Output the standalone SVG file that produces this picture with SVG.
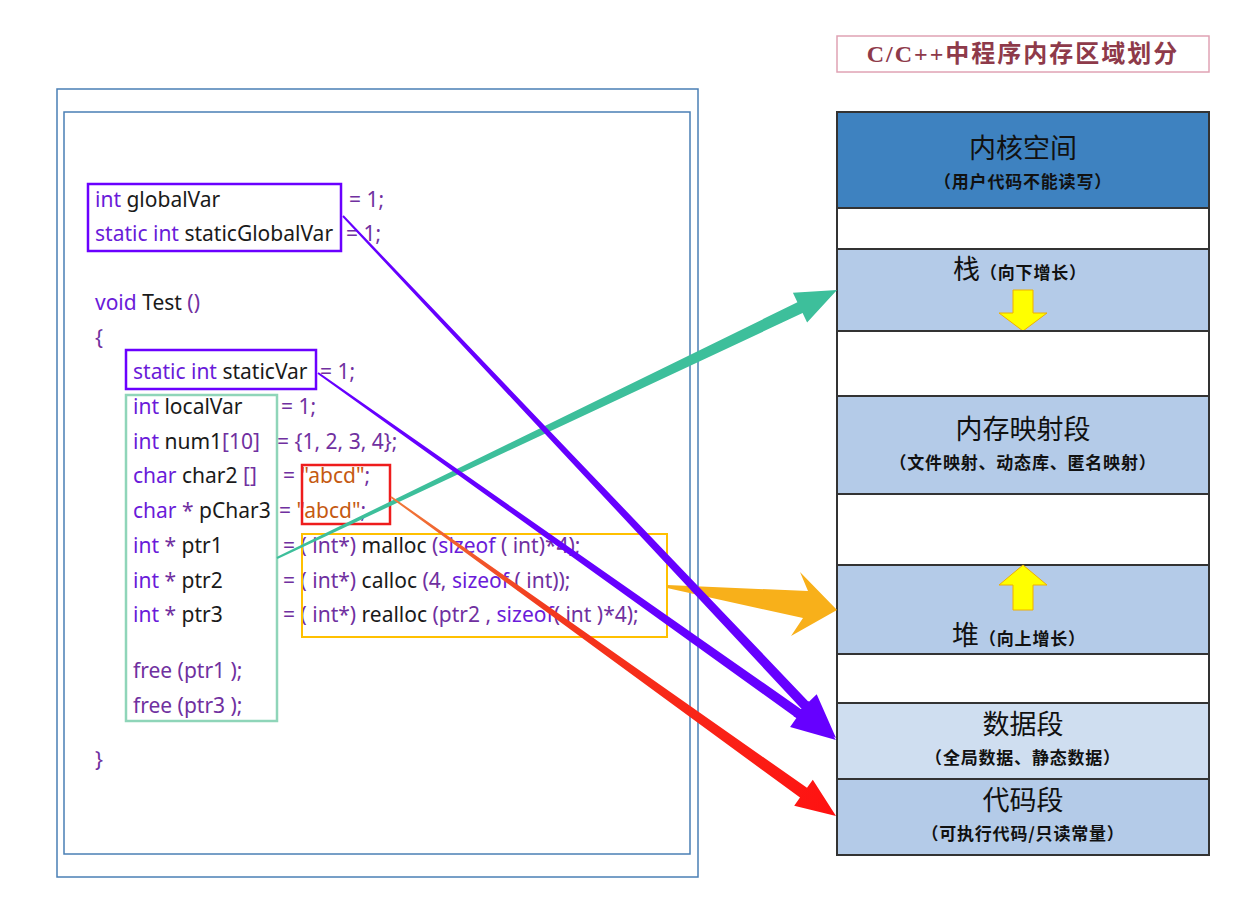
<svg xmlns="http://www.w3.org/2000/svg" width="1236" height="903" viewBox="0 0 1236 903">
<style>
.code{font-family:"Noto Sans","Open Sans",sans-serif;font-size:21px;fill:#1a1a1a}
.k{fill:#6a1bd9}
.p{fill:#7030a0}
.s{fill:#c55a11}
.frame{fill:none;stroke:#4a7fb5;stroke-width:1.5}
.seg{stroke:#333;stroke-width:2}
.big{font-family:"Noto Sans CJK SC",sans-serif;font-size:27px;fill:#111;text-anchor:middle}
.sub{font-family:"Noto Sans CJK SC",sans-serif;font-size:17px;font-weight:bold;fill:#111;text-anchor:middle;letter-spacing:0.8px}
.ya{fill:#ffff00;stroke:#f0b000;stroke-width:1}
</style>
<defs>
<linearGradient id="redg" gradientUnits="userSpaceOnUse" x1="391" y1="497" x2="836" y2="816">
<stop offset="0" stop-color="#f07a3a"/>
<stop offset="0.35" stop-color="#f23a1e"/>
<stop offset="1" stop-color="#ff1111"/>
</linearGradient>
</defs>
<rect width="1236" height="903" fill="#fff"/>

<g id="title">
<rect x="837" y="36" width="372" height="36" fill="#fff" stroke="#e0a3b4" stroke-width="1.5"/>
<text x="1023" y="62" text-anchor="middle" font-family="'Liberation Serif','Noto Sans CJK SC',serif" font-size="24" font-weight="bold" fill="#8e3a4a" letter-spacing="2">C/C++中程序内存区域划分</text>
</g>

<g id="code-frame">
<rect class="frame" x="57" y="89" width="641" height="788"/>
<rect class="frame" x="64" y="112" width="626" height="742"/>
</g>

<g id="code">
<text class="code" x="95" y="207"><tspan class="k">int</tspan> globalVar</text>
<text class="code p" x="349" y="207">= 1;</text>
<text class="code" x="95" y="241"><tspan class="k">static int</tspan> staticGlobalVar</text>
<text class="code p" x="346" y="241">= 1;</text>
<text class="code" x="95" y="310"><tspan class="k">void</tspan> Test <tspan class="p">()</tspan></text>
<text class="code p" x="95" y="345">{</text>
<text class="code" x="133" y="379"><tspan class="k">static int</tspan> staticVar</text>
<text class="code p" x="320" y="379">= 1;</text>
<text class="code" x="133" y="414"><tspan class="k">int</tspan> localVar</text>
<text class="code p" x="281" y="414">= 1;</text>
<text class="code" x="133" y="449"><tspan class="k">int</tspan> num1<tspan class="p">[10]</tspan></text>
<text class="code p" x="277" y="449">= {1, 2, 3, 4};</text>
<text class="code" x="133" y="483"><tspan class="k">char</tspan> char2 <tspan class="p">[]</tspan></text>
<text class="code p" x="283" y="483">= <tspan class="s">"abcd"</tspan>;</text>
<text class="code" x="133" y="518"><tspan class="k">char</tspan> <tspan class="p">*</tspan> pChar3</text>
<text class="code p" x="279" y="518">= <tspan class="s">"abcd"</tspan>;</text>
<text class="code" x="133" y="553"><tspan class="k">int</tspan> <tspan class="p">*</tspan> ptr1</text>
<text class="code p" x="283" y="553">= ( int*) <tspan fill="#1a1a1a">malloc</tspan> (<tspan class="k">sizeof</tspan> ( int)*4);</text>
<text class="code" x="133" y="588"><tspan class="k">int</tspan> <tspan class="p">*</tspan> ptr2</text>
<text class="code p" x="283" y="588">= ( int*) <tspan fill="#1a1a1a">calloc</tspan> (4, <tspan class="k">sizeof</tspan> ( int));</text>
<text class="code" x="133" y="622"><tspan class="k">int</tspan> <tspan class="p">*</tspan> ptr3</text>
<text class="code p" x="283" y="622">= ( int*) <tspan fill="#1a1a1a">realloc</tspan> (ptr2 , <tspan class="k">sizeof</tspan>( int )*4);</text>
<text class="code p" x="133" y="678">free (ptr1 );</text>
<text class="code p" x="133" y="713">free (ptr3 );</text>
<text class="code p" x="95" y="767">}</text>
</g>

<g id="boxes" fill="none">
<rect id="box-global" x="88" y="184" width="253" height="67" stroke="#6a00ff" stroke-width="2.5"/>
<rect id="box-static" x="126" y="350" width="190" height="39" stroke="#6a00ff" stroke-width="2.5"/>
<rect id="box-local" x="126" y="395" width="151" height="326" stroke="#8fd5b9" stroke-width="2.5"/>
<rect id="box-const" x="302" y="465" width="88" height="59" stroke="#ee1c1c" stroke-width="2.5"/>
<rect id="box-heap" x="302" y="534" width="365" height="103" stroke="#ffc000" stroke-width="2"/>
</g>

<g id="memory">
<g id="seg-kernel"><rect class="seg" x="837" y="112" width="372" height="96" fill="#3e82c0"/>
<text class="big" x="1023" y="158">内核空间</text>
<text class="sub" x="1023" y="188">（用户代码不能读写）</text></g>
<g id="gap1"><rect class="seg" x="837" y="208" width="372" height="41" fill="#fff"/></g>
<g id="seg-stack"><rect class="seg" x="837" y="249" width="372" height="82" fill="#b4cbe8"/>
<text x="953" y="279" font-family="'Noto Sans CJK SC',sans-serif" fill="#111"><tspan font-size="27">栈</tspan><tspan font-size="17" font-weight="bold" letter-spacing="0.8">（向下增长）</tspan></text>
<polygon class="ya" points="1013,290 1033,290 1033,313 1047,313 1023,331 999,313 1013,313"/></g>
<g id="gap2"><rect class="seg" x="837" y="331" width="372" height="65" fill="#fff"/></g>
<g id="seg-mmap"><rect class="seg" x="837" y="396" width="372" height="98" fill="#b4cbe8"/>
<text class="big" x="1023" y="439">内存映射段</text>
<text class="sub" x="1023" y="469">（文件映射、动态库、匿名映射）</text></g>
<g id="gap3"><rect class="seg" x="837" y="494" width="372" height="71" fill="#fff"/></g>
<g id="seg-heap"><rect class="seg" x="837" y="565" width="372" height="89" fill="#b4cbe8"/>
<polygon class="ya" points="1023,565 1047,585 1033,585 1033,610 1013,610 1013,585 999,585"/>
<text x="952" y="645" font-family="'Noto Sans CJK SC',sans-serif" fill="#111"><tspan font-size="27">堆</tspan><tspan font-size="17" font-weight="bold" letter-spacing="0.8">（向上增长）</tspan></text></g>
<g id="gap4"><rect class="seg" x="837" y="654" width="372" height="49" fill="#fff"/></g>
<g id="seg-data"><rect class="seg" x="837" y="703" width="372" height="76" fill="#cfdef0"/>
<text class="big" x="1023" y="734">数据段</text>
<text class="sub" x="1023" y="764">（全局数据、静态数据）</text></g>
<g id="seg-code"><rect class="seg" x="837" y="779" width="372" height="76" fill="#b4cbe8"/>
<text class="big" x="1023" y="810">代码段</text>
<text class="sub" x="1023" y="840">（可执行代码/只读常量）</text></g>
</g>

<g id="connectors">
<polygon id="arrow-stack" fill="#3dbf9b" points="276.6,557.1 797.4,302.3 792.9,292.8 837,290 807.1,322.6 802.6,313.1 277.4,558.9"/>
<polygon id="arrow-heap" fill="#f8b01a" points="667,585 808,591 800,572 837,610 791,636 803,618 667,588"/>
<polygon id="arrow-global" fill="#6600ff" points="343.7,215.3 808.7,701.9 816.7,694.3 836,738 793.5,716.3 801.5,708.7 342.3,216.7"/>
<polygon id="arrow-static" fill="#6600ff" points="318.6,372.2 802.2,709.9 808.6,700.9 836,740 790.1,727.1 796.4,718.1 317.4,373.8"/>
<polygon id="arrow-const" fill="url(#redg)" points="391.5,496.3 807.0,787.8 812.8,779.7 836,816 794.2,805.7 800.0,797.6 390.5,497.7"/>
</g>
</svg>
